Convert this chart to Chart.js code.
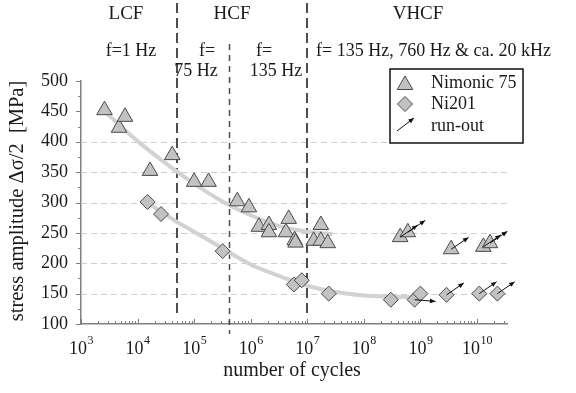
<!DOCTYPE html>
<html>
<head>
<meta charset="utf-8">
<script src="https://cdn.jsdelivr.net/npm/chart.js@4.4.1/dist/chart.umd.min.js"></script>
<style>
  html, body { margin: 0; padding: 0; background: #fff; }
  canvas { display: block; }
</style>
</head>
<body>
<canvas id="snChart" width="576" height="393"></canvas>
<script>
// Nimonic 75 tests: cycles, stress amplitude [MPa], run-out marker
const nimonicCycles = [2.6e3, 4.7e3, 6.0e3, 1.66e4, 4.1e4, 1.0e5, 1.8e5, 5.8e5, 9.3e5, 1.4e6, 2.1e6, 2.1e6,
  4.2e6, 4.7e6, 6.0e6, 6.2e6, 1.3e7, 1.74e7, 1.74e7, 2.3e7, 4.4e8, 6.0e8, 3.5e9, 1.3e10, 1.7e10];
const nimonicStress = [452, 423, 441, 352, 378, 334, 334, 302, 292, 260, 263, 251,
  251, 273, 238, 234, 237, 263, 237, 233, 243, 251, 223, 227, 233];
const nimonicRunout = [null, null, null, null, null, null, null, null, null, null, null, null,
  null, null, null, null, null, null, null, null, 'up', 'up', 'up', 'up', 'up'];

// Ni201 tests
const ni201Cycles = [1.5e4, 2.6e4, 3.2e5, 5.8e6, 8.0e6, 2.4e7, 3.0e8, 7.9e8, 1.0e9, 2.9e9, 1.1e10, 2.3e10];
const ni201Stress = [301, 281, 220, 165, 172, 150, 140, 140, 150, 148, 150, 150];
const ni201Runout = [null, null, null, null, null, null, null, 'flat', null, 'up', 'up', 'up'];

// fitted S-N trend curves
const nimonicFitCycles = [2.6e3, 1e4, 3e4, 1e5, 3e5, 1e6, 3e6, 1e7, 2.8e7];
const nimonicFitStress = [450, 401, 366, 331, 303, 279, 262, 252, 248];
const ni201FitCycles = [1.5e4, 5e4, 1e5, 3e5, 1e6, 3e6, 1e7, 3e7, 1e8, 3e8, 8e8];
const ni201FitStress = [300, 268, 252, 226, 198, 180, 163, 153, 147, 145, 144];

// LCF / HCF / VHCF boundaries and the 75 Hz / 135 Hz split (cycles)
const regimeBounds = [5e4, 1e7];
const frequencySplit = 4.2e5;

const decadeExponents = [3, 4, 5, 6, 7, 8, 9, 10];

const serif = '"Liberation Serif", "Times New Roman", serif';
const markerFill = '#c2c2c2';
const markerEdge = '#4a4a4a';
const fitColor = '#d2d2d2';

const toPoints = (xs, ys) => xs.map((x, i) => ({ x, y: ys[i] }));

function triPath(ctx, x, y, r) {
  ctx.beginPath();
  ctx.moveTo(x, y - r);
  ctx.lineTo(x + 0.866 * r, y + 0.5 * r);
  ctx.lineTo(x - 0.866 * r, y + 0.5 * r);
  ctx.closePath();
}

function diamondPath(ctx, x, y, r) {
  ctx.beginPath();
  ctx.moveTo(x, y - r);
  ctx.lineTo(x + r, y);
  ctx.lineTo(x, y + r);
  ctx.lineTo(x - r, y);
  ctx.closePath();
}

function arrow(ctx, x0, y0, x1, y1) {
  const a = Math.atan2(y1 - y0, x1 - x0);
  ctx.save();
  ctx.strokeStyle = '#111';
  ctx.fillStyle = '#111';
  ctx.lineWidth = 1;
  ctx.beginPath();
  ctx.moveTo(x0, y0);
  ctx.lineTo(x1, y1);
  ctx.stroke();
  ctx.beginPath();
  ctx.moveTo(x1, y1);
  ctx.lineTo(x1 - 6 * Math.cos(a - 0.4), y1 - 6 * Math.sin(a - 0.4));
  ctx.lineTo(x1 - 6 * Math.cos(a + 0.4), y1 - 6 * Math.sin(a + 0.4));
  ctx.closePath();
  ctx.fill();
  ctx.restore();
}

const backdrop = {
  id: 'backdrop',
  beforeDatasetsDraw(chart) {
    const { ctx, chartArea: area, scales: { x, y } } = chart;
    ctx.save();
    // light dashed stress gridlines
    ctx.strokeStyle = '#cfcfcf';
    ctx.lineWidth = 1;
    ctx.setLineDash([6, 4]);
    for (let s = 150; s <= 400; s += 50) {
      const py = Math.round(y.getPixelForValue(s)) + 0.5;
      ctx.beginPath();
      ctx.moveTo(area.left, py);
      ctx.lineTo(area.right, py);
      ctx.stroke();
    }
    // regime boundaries
    ctx.strokeStyle = '#4d4d4d';
    ctx.lineWidth = 2;
    ctx.setLineDash([10, 5]);
    regimeBounds.forEach((n) => {
      const px = Math.round(x.getPixelForValue(n));
      ctx.beginPath();
      ctx.moveTo(px, 3);
      ctx.lineTo(px, 314);
      ctx.stroke();
    });
    ctx.lineWidth = 1.5;
    ctx.setLineDash([6, 5]);
    const fx = Math.round(x.getPixelForValue(frequencySplit)) + 0.5;
    ctx.beginPath();
    ctx.moveTo(fx, 44);
    ctx.lineTo(fx, 334);
    ctx.stroke();
    ctx.setLineDash([]);

    // axis tick marks
    ctx.strokeStyle = '#808080';
    ctx.lineWidth = 1;
    for (let s = 100; s <= 500; s += 25) {
      const py = Math.round(y.getPixelForValue(s)) + 0.5;
      const len = s % 50 === 0 ? 5 : 3;
      ctx.beginPath();
      ctx.moveTo(area.left - len, py);
      ctx.lineTo(area.left, py);
      ctx.stroke();
    }
    decadeExponents.forEach((e) => {
      for (let m = 1; m <= 9; m++) {
        const v = m * Math.pow(10, e);
        if (v > x.max) break;
        const px = Math.round(x.getPixelForValue(v)) + 0.5;
        const len = m === 1 ? 5 : 3;
        ctx.beginPath();
        ctx.moveTo(px, area.bottom - len);
        ctx.lineTo(px, area.bottom);
        ctx.stroke();
      }
    });
    ctx.restore();
  }
};

const runouts = {
  id: 'runouts',
  afterDatasetsDraw(chart) {
    const { ctx } = chart;
    [[0, nimonicRunout], [1, ni201Runout]].forEach(([idx, flags]) => {
      const meta = chart.getDatasetMeta(idx);
      meta.data.forEach((pt, i) => {
        const kind = flags[i];
        if (!kind) return;
        const ang = kind === 'flat' ? 0.08 : -0.6;
        const len = 21;
        arrow(ctx, pt.x, pt.y, pt.x + len * Math.cos(ang), pt.y + len * Math.sin(ang));
      });
    });
  }
};

const annotations = {
  id: 'annotations',
  afterDraw(chart) {
    const { ctx, scales: { x } } = chart;
    ctx.save();
    ctx.fillStyle = '#1a1a1a';
    ctx.textBaseline = 'middle';

    // regime headers and test frequencies
    ctx.font = '19px ' + serif;
    ctx.textAlign = 'center';
    ctx.fillText('LCF', 126, 14);
    ctx.fillText('HCF', 232, 14);
    ctx.fillText('VHCF', 418, 14);
    ctx.font = '18px ' + serif;
    ctx.fillText('f=1 Hz', 131, 51);
    ctx.fillText('f=', 207, 51);
    ctx.fillText('75 Hz', 196, 71);
    ctx.fillText('f=', 264, 51);
    ctx.fillText('135 Hz', 276, 71);
    ctx.textAlign = 'left';
    ctx.fillText('f= 135 Hz, 760 Hz & ca. 20 kHz', 316, 51);

    // decade labels 10^n
    decadeExponents.forEach((e) => {
      const px = x.getPixelForValue(Math.pow(10, e));
      ctx.font = '18px ' + serif;
      const wBase = ctx.measureText('10').width;
      ctx.font = '12px ' + serif;
      const wExp = ctx.measureText(String(e)).width;
      const left = px - (wBase + wExp) / 2;
      ctx.font = '18px ' + serif;
      ctx.fillText('10', left, 349);
      ctx.font = '12px ' + serif;
      ctx.fillText(String(e), left + wBase + 0.5, 341);
    });

    // axis titles
    ctx.font = '20px ' + serif;
    ctx.textAlign = 'center';
    ctx.fillText('number of cycles', 292, 371);
    ctx.save();
    ctx.translate(18, 201);
    ctx.rotate(-Math.PI / 2);
    ctx.font = '20.5px ' + serif;
    ctx.fillText('stress amplitude \u0394\u03c3/2  [MPa]', 0, 0);
    ctx.restore();

    // legend box
    ctx.fillStyle = '#fff';
    ctx.fillRect(390, 69, 133, 74);
    ctx.strokeStyle = '#111';
    ctx.lineWidth = 1.5;
    ctx.strokeRect(390, 69, 133, 74);
    ctx.lineWidth = 1;
    ctx.fillStyle = markerFill;
    ctx.strokeStyle = markerEdge;
    triPath(ctx, 405, 85, 9);
    ctx.fill();
    ctx.stroke();
    diamondPath(ctx, 405, 104, 7.5);
    ctx.fill();
    ctx.stroke();
    arrow(ctx, 397, 131, 414, 118);
    ctx.fillStyle = '#1a1a1a';
    ctx.font = '18px ' + serif;
    ctx.textAlign = 'left';
    ctx.fillText('Nimonic 75', 431, 83);
    ctx.fillText('Ni201', 431, 104);
    ctx.fillText('run-out', 431, 126);
    ctx.restore();
  }
};

new Chart(document.getElementById('snChart'), {
  type: 'scatter',
  data: {
    datasets: [
      {
        label: 'Nimonic 75',
        data: toPoints(nimonicCycles, nimonicStress),
        pointStyle: 'triangle',
        pointRadius: 9,
        backgroundColor: markerFill,
        borderColor: markerEdge,
        borderWidth: 1,
        order: 1
      },
      {
        label: 'Ni201',
        data: toPoints(ni201Cycles, ni201Stress),
        pointStyle: 'rectRot',
        pointRadius: 7.5,
        backgroundColor: markerFill,
        borderColor: markerEdge,
        borderWidth: 1,
        order: 1
      },
      {
        label: 'Nimonic 75 fit',
        data: toPoints(nimonicFitCycles, nimonicFitStress),
        showLine: true,
        pointRadius: 0,
        borderColor: fitColor,
        borderWidth: 4,
        cubicInterpolationMode: 'monotone',
        order: 2
      },
      {
        label: 'Ni201 fit',
        data: toPoints(ni201FitCycles, ni201FitStress),
        showLine: true,
        pointRadius: 0,
        borderColor: fitColor,
        borderWidth: 4,
        cubicInterpolationMode: 'monotone',
        order: 2
      }
    ]
  },
  options: {
    responsive: false,
    animation: false,
    devicePixelRatio: 1,
    layout: { padding: { top: 81, right: 69, left: 0, bottom: 0 } },
    plugins: { legend: { display: false }, tooltip: { enabled: false } },
    scales: {
      x: {
        type: 'logarithmic',
        min: 1e3,
        max: 3.4e10,
        grid: { display: true, drawOnChartArea: false, drawTicks: false, color: 'transparent' },
        border: { display: true, color: '#808080', width: 1.5 },
        ticks: { display: false },
        afterFit(scale) { scale.height = 69; }
      },
      y: {
        min: 100,
        max: 500,
        grid: { display: true, drawOnChartArea: false, drawTicks: false, color: 'transparent' },
        border: { display: true, color: '#808080', width: 1.5 },
        ticks: { stepSize: 50, padding: 13, color: '#1a1a1a', font: { family: serif, size: 18 } },
        afterFit(scale) { scale.width = 81; }
      }
    }
  },
  plugins: [backdrop, runouts, annotations]
});
</script>
</body>
</html>
